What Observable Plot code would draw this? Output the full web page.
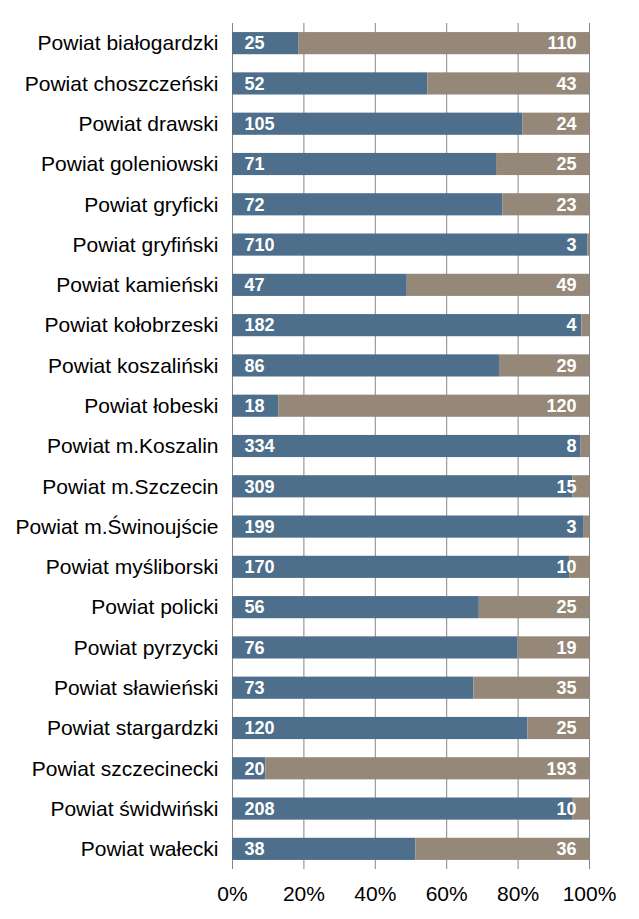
<!DOCTYPE html>
<html><head><meta charset="utf-8">
<script src="https://cdn.jsdelivr.net/npm/d3@7"></script>
<script src="https://cdn.jsdelivr.net/npm/@observablehq/plot@0.6"></script>
<style>html,body{margin:0;padding:0;background:#fff} svg{display:block}</style>
</head><body><div id="chart"></div>
<script>
const categories = [
  "Powiat białogardzki","Powiat choszczeński","Powiat drawski","Powiat goleniowski",
  "Powiat gryficki","Powiat gryfiński","Powiat kamieński","Powiat kołobrzeski",
  "Powiat koszaliński","Powiat łobeski","Powiat m.Koszalin","Powiat m.Szczecin",
  "Powiat m.Świnoujście","Powiat myśliborski","Powiat policki","Powiat pyrzycki",
  "Powiat sławieński","Powiat stargardzki","Powiat szczecinecki","Powiat świdwiński",
  "Powiat wałecki"
];
const firstValues  = [25,52,105,71,72,710,47,182,86,18,334,309,199,170,56,76,73,120,20,208,38];
const secondValues = [110,43,24,25,23,3,49,4,29,120,8,15,3,10,25,19,35,25,193,10,36];
const seriesNames = ["first","second"];
const seriesColors = ["#4e6f8b","#968879"];
const xTicks = [0,0.2,0.4,0.6,0.8,1];
const xTickLabels = ["0%","20%","40%","60%","80%","100%"];

const rows = categories.flatMap((c,i)=>[
  {name:c, series:seriesNames[0], value:firstValues[i]},
  {name:c, series:seriesNames[1], value:secondValues[i]}
]);
const labels = categories.map((c,i)=>({name:c, a:firstValues[i], b:secondValues[i]}));

const plot = Plot.plot({
  width:639, height:919,
  marginTop:23, marginBottom:50, marginLeft:232, marginRight:50,
  style:{fontFamily:"'Liberation Sans', Arial, sans-serif", fontSize:"21px", color:"#000", background:"#fff"},
  x:{domain:[0,1], ticks:xTicks, tickFormat:(d,i)=>xTickLabels[i], tickSize:0, tickPadding:17, label:null},
  y:{domain:categories, round:false, paddingInner:0.45, paddingOuter:0.225, tickSize:0, tickPadding:14, label:null},
  color:{domain:seriesNames, range:seriesColors},
  marks:[
    Plot.ruleX(xTicks, {stroke:"#868686", strokeWidth:1}),
    Plot.barX(rows, Plot.stackX({offset:"normalize", x:"value", y:"name", fill:"series"})),
    Plot.text(labels, {y:"name", text:"a", frameAnchor:"left", dx:12, textAnchor:"start", fill:"#fff", fontWeight:"bold", fontSize:18}),
    Plot.text(labels, {y:"name", text:"b", frameAnchor:"right", dx:-13, textAnchor:"end", fill:"#fff", fontWeight:"bold", fontSize:18})
  ]
});
document.getElementById("chart").appendChild(plot);
</script>
</body></html>
